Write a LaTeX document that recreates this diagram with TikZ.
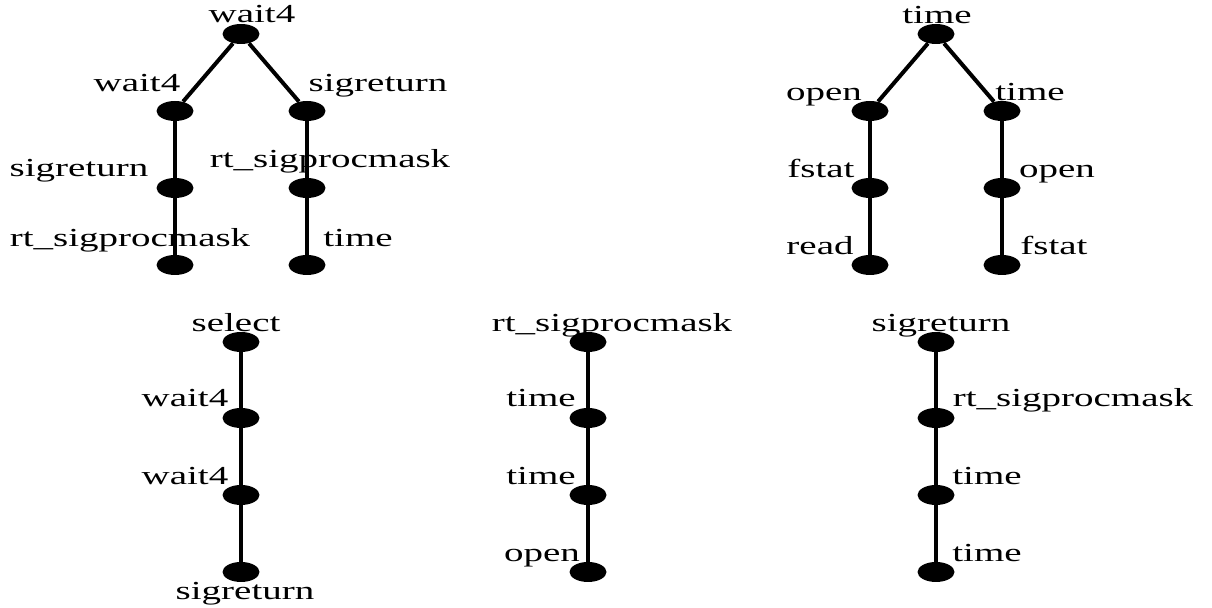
\documentclass[tikz,border=0pt]{standalone}
\usepackage{fontspec}
\setmainfont{Liberation Serif}
\newfontfamily\widefont[FakeStretch=1.5]{Liberation Serif}
\usetikzlibrary{shapes.geometric}
\begin{document}
\begin{tikzpicture}[x=0.5pt,y=-0.5pt,
  vtx/.style={ellipse,fill=black,draw=none,inner sep=0pt,minimum width=18.5pt,minimum height=10pt},
  lbl/.style={anchor=base,inner sep=0pt,font=\widefont\fontsize{13}{15}\selectfont},
  edge/.style={line width=2pt,black}]
\useasboundingbox (0,0) rectangle (1212,608);

% ---- tree 1 ----
\node[vtx] (a0) at (241,34) {};
\node[vtx] (a1) at (175,111) {};
\node[vtx] (a2) at (307,111) {};
\node[vtx] (a3) at (175,188) {};
\node[vtx] (a4) at (175,265) {};
\node[vtx] (a5) at (307,188) {};
\node[vtx] (a6) at (307,265) {};
\draw[edge] (a0) -- (a1); \draw[edge] (a0) -- (a2);
\draw[edge] (a1) -- (a3); \draw[edge] (a3) -- (a4);
\draw[edge] (a2) -- (a5); \draw[edge] (a5) -- (a6);
\node[lbl] (la0) at (252,23) {wait4};
\node[lbl] (la1) at (137,92) {wait4};
\node[lbl] (la2) at (378,92) {sigreturn};
\node[lbl] (la3) at (79,177) {sigreturn};
\node[lbl] (la4) at (130,247) {rt\_sigprocmask};
\node[lbl] (la5) at (330,168) {rt\_sigprocmask};
\node[lbl] (la6) at (358,247) {time};

% ---- tree 2 ----
\node[vtx] (b0) at (936,34) {};
\node[vtx] (b1) at (870,111) {};
\node[vtx] (b2) at (1002,111) {};
\node[vtx] (b3) at (870,188) {};
\node[vtx] (b4) at (870,265) {};
\node[vtx] (b5) at (1002,188) {};
\node[vtx] (b6) at (1002,265) {};
\draw[edge] (b0) -- (b1); \draw[edge] (b0) -- (b2);
\draw[edge] (b1) -- (b3); \draw[edge] (b3) -- (b4);
\draw[edge] (b2) -- (b5); \draw[edge] (b5) -- (b6);
\node[lbl] (lb0) at (937,24) {time};
\node[lbl] (lb1) at (824,101) {open};
\node[lbl] (lb2) at (1030,101) {time};
\node[lbl] (lb3) at (821,178) {fstat};
\node[lbl] (lb4) at (820,255) {read};
\node[lbl] (lb5) at (1057,178) {open};
\node[lbl] (lb6) at (1054,255) {fstat};

% ---- chain 3 ----
\node[vtx] (c0) at (241,342) {};
\node[vtx] (c1) at (241,418) {};
\node[vtx] (c2) at (241,495) {};
\node[vtx] (c3) at (241,572) {};
\draw[edge] (c0) -- (c1); \draw[edge] (c1) -- (c2); \draw[edge] (c2) -- (c3);
\node[lbl] (lc0) at (236,332) {select};
\node[lbl] (lc1) at (185,407) {wait4};
\node[lbl] (lc2) at (185,485) {wait4};
\node[lbl] (lc3) at (245,600) {sigreturn};

% ---- chain 4 ----
\node[vtx] (d0) at (588,342) {};
\node[vtx] (d1) at (588,418) {};
\node[vtx] (d2) at (588,495) {};
\node[vtx] (d3) at (588,572) {};
\draw[edge] (d0) -- (d1); \draw[edge] (d1) -- (d2); \draw[edge] (d2) -- (d3);
\node[lbl] (ld0) at (612,332) {rt\_sigprocmask};
\node[lbl] (ld1) at (541,407) {time};
\node[lbl] (ld2) at (541,485) {time};
\node[lbl] (ld3) at (542,562) {open};

% ---- chain 5 ----
\node[vtx] (e0) at (936,342) {};
\node[vtx] (e1) at (936,418) {};
\node[vtx] (e2) at (936,495) {};
\node[vtx] (e3) at (936,572) {};
\draw[edge] (e0) -- (e1); \draw[edge] (e1) -- (e2); \draw[edge] (e2) -- (e3);
\node[lbl] (le0) at (941,332) {sigreturn};
\node[lbl] (le1) at (1073,407) {rt\_sigprocmask};
\node[lbl] (le2) at (987,485) {time};
\node[lbl] (le3) at (987,562) {time};
\end{tikzpicture}
\end{document}
